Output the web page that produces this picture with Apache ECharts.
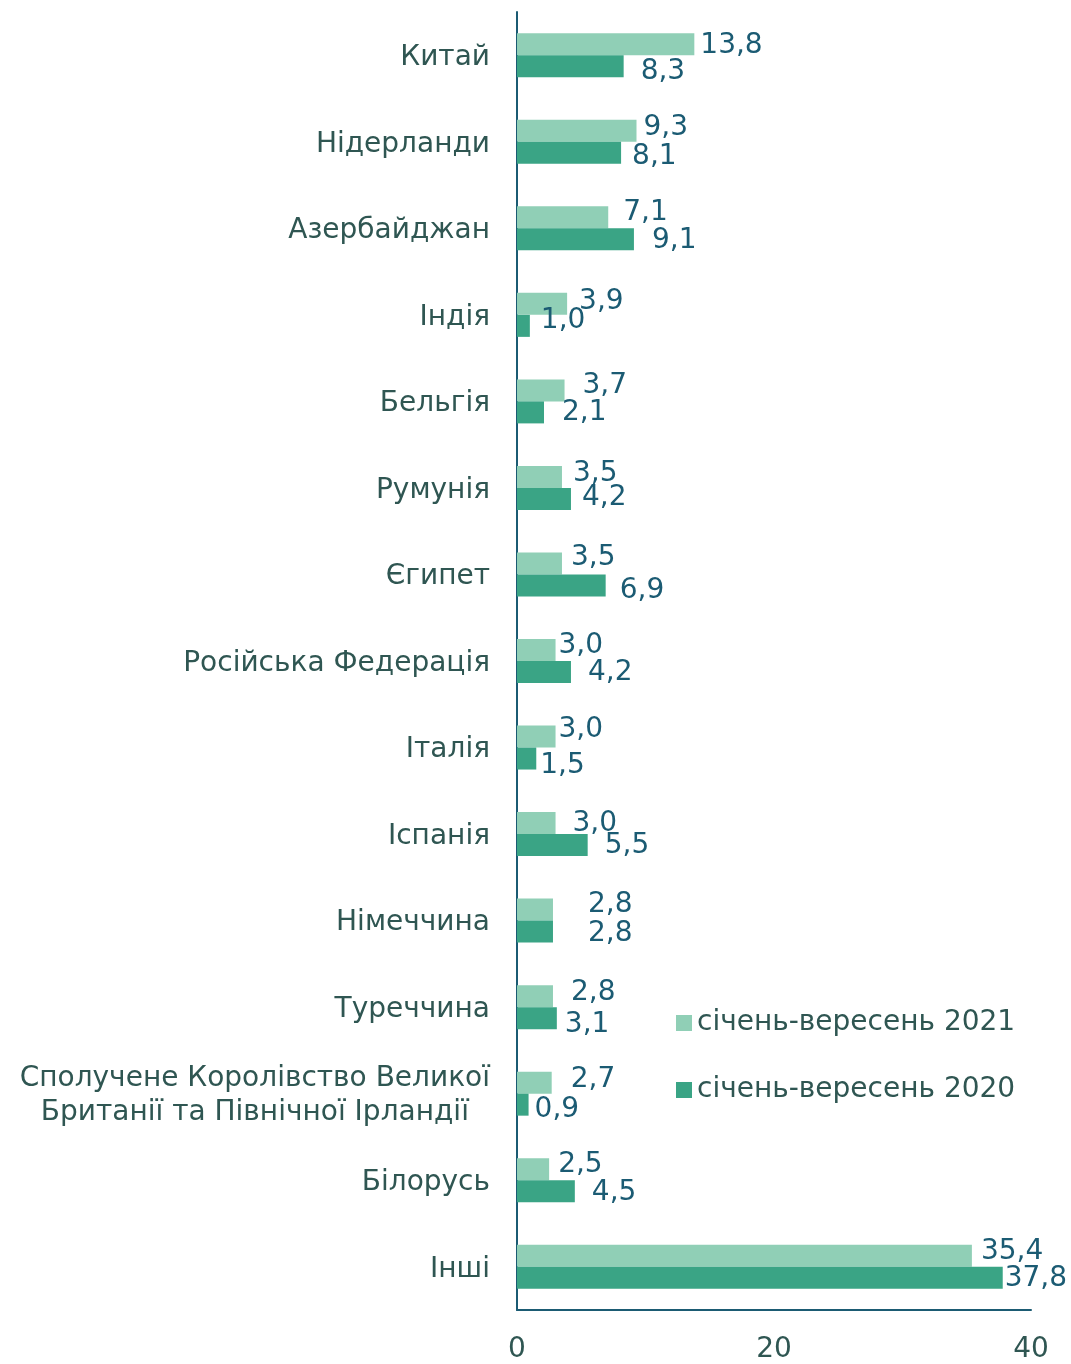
<!DOCTYPE html>
<html>
<head>
<meta charset="utf-8">
<script src="https://cdn.jsdelivr.net/npm/echarts@6/dist/echarts.min.js"></script>
<style>
html,body{margin:0;padding:0;background:#fff;}
#chart{width:1071px;height:1364px;}
</style>
</head>
<body>
<div id="chart"></div>
<script>
const categories = [
  'Китай', 'Нідерланди', 'Азербайджан', 'Індія', 'Бельгія', 'Румунія', 'Єгипет',
  'Російська Федерація', 'Італія', 'Іспанія', 'Німеччина', 'Туреччина',
  'Сполучене Королівство Великої\nБританії та Північної Ірландії', 'Білорусь', 'Інші'
];
const seriesNames = ['січень-вересень 2021', 'січень-вересень 2020'];
const values2021 = [13.8, 9.3, 7.1, 3.9, 3.7, 3.5, 3.5, 3.0, 3.0, 3.0, 2.8, 2.8, 2.7, 2.5, 35.4];
const values2020 = [8.3, 8.1, 9.1, 1.0, 2.1, 4.2, 6.9, 4.2, 1.5, 5.5, 2.8, 3.1, 0.9, 4.5, 37.8];
const xTicks = [0, 20, 40];

// label nudges (style only): [dx, dy] in px
const shift2021 = [[0,1],[1,-3],[9,-5],[6,-2],[12,-5],[5,-3],[3,-6],[-3,-4],[-3,-7],[11,1],[29,-5],[12,-3],[13,-3],[3,-4],[3,-4]];
const shift2020 = [[11,5],[5,4],[12,1],[5,-5],[12,0],[5,-1],[8,5],[11,1],[-2,7],[11,1],[29,2],[2,7],[0,5],[11,2],[-4,1]];

const valueColor = '#1b5b73';
const catColor = '#2f5652';
const fontFamily = 'DejaVu Sans, Verdana, sans-serif';
const fs = 28;

function fmt(v){ return v.toFixed(1).replace('.', ','); }

function buildData(vals, shifts){
  return vals.map((v, i) => ({
    value: v,
    label: { offset: shifts[i] }
  }));
}

const chart = echarts.init(document.getElementById('chart'), null, {renderer: 'canvas'});
chart.setOption({
  animation: false,
  backgroundColor: '#ffffff',
  textStyle: { fontFamily: fontFamily },
  grid: { left: 517, right: 40, top: 12, bottom: 53, containLabel: false },
  legend: {
    orient: 'vertical',
    left: 671,
    top: 1002,
    itemWidth: 16,
    itemHeight: 16,
    itemGap: 35,
    icon: 'rect',
    textStyle: { fontSize: fs, color: catColor, fontFamily: fontFamily, lineHeight: 32 },
    data: seriesNames
  },
  xAxis: {
    type: 'value',
    min: 0, max: 40, interval: 20,
    splitLine: { show: false },
    axisTick: { show: false },
    axisLine: { show: true, lineStyle: { color: valueColor, width: 2 } },
    axisLabel: {
      fontSize: fs, color: catColor, margin: 26, fontFamily: fontFamily,
      formatter: v => xTicks.includes(v) ? String(v) : ''
    }
  },
  yAxis: {
    type: 'category',
    inverse: true,
    data: categories,
    axisTick: { show: false },
    axisLine: { show: true, lineStyle: { color: valueColor, width: 2 } },
    axisLabel: {
      fontSize: fs, color: catColor, margin: 27, fontFamily: fontFamily,
      padding: [5, 0, 0, 0],
      formatter: function(v){
        if (v.indexOf('\n') >= 0) {
          return v.split('\n').map(s => '{c|' + s + '}').join('\n');
        }
        return v;
      },
      rich: { c: { fontSize: fs, color: catColor, align: 'center', fontFamily: fontFamily, lineHeight: 34 } }
    }
  },
  series: [
    {
      name: seriesNames[0], type: 'bar', data: buildData(values2021, shift2021),
      barWidth: 22, barGap: '0%',
      itemStyle: { color: '#90cfb6' },
      label: { show: true, position: 'right', distance: 6, fontSize: fs, color: valueColor, fontFamily: fontFamily,
        formatter: p => fmt(p.value) }
    },
    {
      name: seriesNames[1], type: 'bar', data: buildData(values2020, shift2020),
      barWidth: 22, barGap: '0%',
      itemStyle: { color: '#3aa485' },
      label: { show: true, position: 'right', distance: 6, fontSize: fs, color: valueColor, fontFamily: fontFamily,
        formatter: p => fmt(p.value) }
    }
  ]
});
</script>
</body>
</html>
